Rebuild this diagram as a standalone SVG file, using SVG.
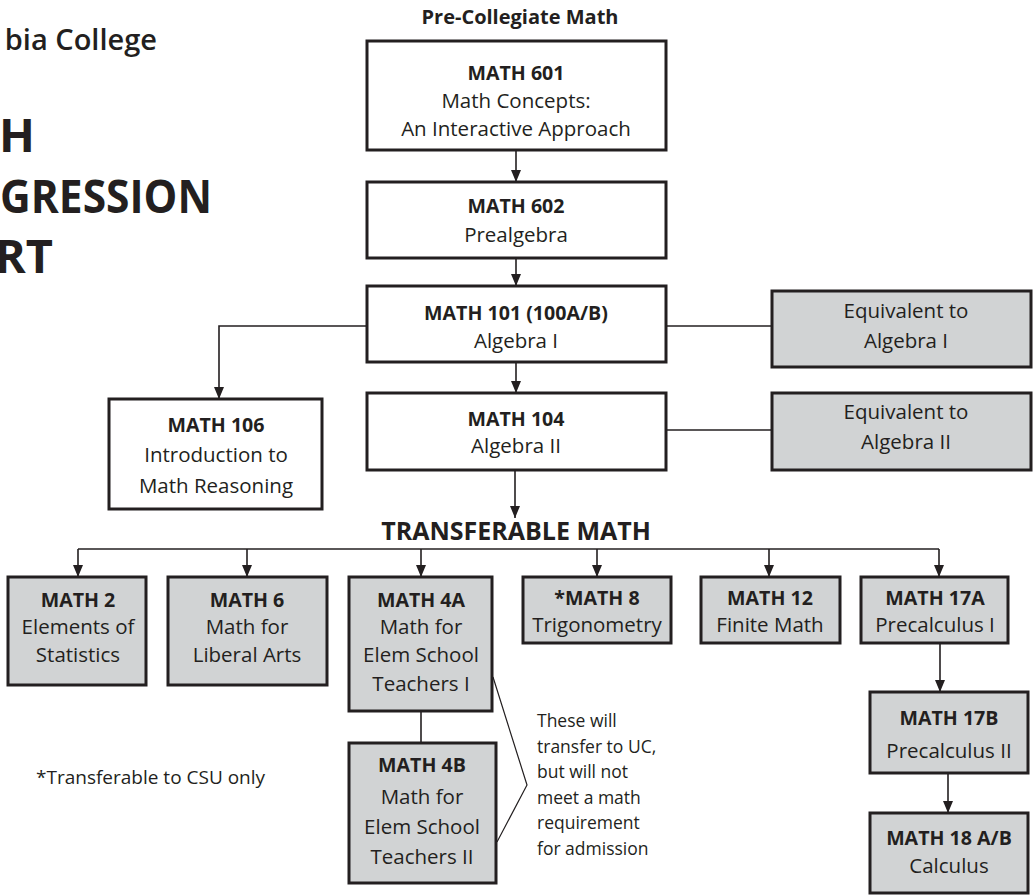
<svg xmlns="http://www.w3.org/2000/svg" width="1034" height="895" viewBox="0 0 1034 895">
<defs>
<style>
text{font-family:"Open Sans","Noto Sans",sans-serif;fill:#231f20;text-anchor:middle}
.b{font-weight:700;font-size:19.6px}
.r{font-size:20.5px}
.w{fill:#fff;stroke:#231f20;stroke-width:3}
.g{fill:#d1d3d4;stroke:#231f20;stroke-width:3}
.c{fill:none;stroke:#231f20;stroke-width:1.6}
.note{font-size:17.5px;text-anchor:start}
.big{font-weight:700;font-size:47px;text-anchor:end}
</style>
<marker id="ah" viewBox="0 0 12 10" refX="12" refY="5" markerWidth="12" markerHeight="10" markerUnits="userSpaceOnUse" orient="auto">
<path d="M0,0 L12,5 L0,10 z" fill="#231f20"/>
</marker>
</defs>
<rect width="1034" height="895" fill="#fff"/>

<g id="title">
<text x="157" y="50" style="font-size:29px;font-weight:600;text-anchor:end">bia College</text>
<text class="big" x="35" y="152">TH</text>
<text class="big" x="0" y="213" style="text-anchor:start" textLength="212" lengthAdjust="spacingAndGlyphs">GRESSION</text>
<text class="big" x="53" y="273">RT</text>
</g>

<g id="connectors">
<path class="c" d="M516,150 V182" marker-end="url(#ah)"/>
<path class="c" d="M516,258 V286" marker-end="url(#ah)"/>
<path class="c" d="M516,362 V393" marker-end="url(#ah)"/>
<path class="c" d="M367,326 H219 V399" marker-end="url(#ah)"/>
<path class="c" d="M666,326 H772"/>
<path class="c" d="M666,430 H772"/>
<path class="c" d="M515,470 V518" marker-end="url(#ah)"/>
<path class="c" d="M78,549 H939"/>
<path class="c" d="M78,549 V577" marker-end="url(#ah)"/>
<path class="c" d="M247,549 V577" marker-end="url(#ah)"/>
<path class="c" d="M421,549 V577" marker-end="url(#ah)"/>
<path class="c" d="M597,549 V577" marker-end="url(#ah)"/>
<path class="c" d="M769,549 V577" marker-end="url(#ah)"/>
<path class="c" d="M939,549 V577" marker-end="url(#ah)"/>
<path class="c" d="M940,643 V692" marker-end="url(#ah)"/>
<path class="c" d="M948,773 V813" marker-end="url(#ah)"/>
<path class="c" d="M421,711 V743"/>
<polyline class="c" style="stroke-width:1.2" points="493,677 527,785 497,842"/>
</g>

<g id="labels">
<text x="520" y="24" style="font-weight:700;font-size:20px">Pre-Collegiate Math</text>
<text x="516" y="540" style="font-weight:700;font-size:25px">TRANSFERABLE MATH</text>
<text class="note" x="537" y="727">These will</text>
<text class="note" x="537" y="753">transfer to UC,</text>
<text class="note" x="537" y="778">but will not</text>
<text class="note" x="537" y="804">meet a math</text>
<text class="note" x="537" y="829">requirement</text>
<text class="note" x="537" y="855">for admission</text>
<text class="note" x="36" y="784" style="font-size:19px">*Transferable to CSU only</text>
</g>

<g id="math601">
<rect class="w" x="367" y="41" width="299" height="109"/>
<text class="b" x="516" y="80">MATH 601</text>
<text class="r" x="516" y="108">Math Concepts:</text>
<text class="r" x="516" y="136">An Interactive Approach</text>
</g>
<g id="math602">
<rect class="w" x="367" y="182" width="299" height="76"/>
<text class="b" x="516" y="213">MATH 602</text>
<text class="r" x="516" y="242">Prealgebra</text>
</g>
<g id="math101">
<rect class="w" x="367" y="286" width="299" height="76"/>
<text class="b" x="516" y="320">MATH 101 (100A/B)</text>
<text class="r" x="516" y="348">Algebra I</text>
</g>
<g id="math104">
<rect class="w" x="367" y="393" width="299" height="77"/>
<text class="b" x="516" y="426">MATH 104</text>
<text class="r" x="516" y="453">Algebra II</text>
</g>
<g id="eq1">
<rect class="g" x="772" y="291" width="259" height="76"/>
<text class="r" x="906" y="318">Equivalent to</text>
<text class="r" x="906" y="348">Algebra I</text>
</g>
<g id="eq2">
<rect class="g" x="772" y="393" width="259" height="77"/>
<text class="r" x="906" y="419">Equivalent to</text>
<text class="r" x="906" y="449">Algebra II</text>
</g>
<g id="math106">
<rect class="w" x="109" y="399" width="213" height="110"/>
<text class="b" x="216" y="432">MATH 106</text>
<text class="r" x="216" y="462">Introduction to</text>
<text class="r" x="216" y="493">Math Reasoning</text>
</g>

<g id="math2">
<rect class="g" x="8" y="577" width="138" height="108"/>
<text class="b" x="78" y="607">MATH 2</text>
<text class="r" x="78" y="634">Elements of</text>
<text class="r" x="78" y="662">Statistics</text>
</g>
<g id="math6">
<rect class="g" x="168" y="577" width="159" height="108"/>
<text class="b" x="247" y="607">MATH 6</text>
<text class="r" x="247" y="634">Math for</text>
<text class="r" x="247" y="662">Liberal Arts</text>
</g>
<g id="math4a">
<rect class="g" x="349" y="577" width="143" height="134"/>
<text class="b" x="421" y="607">MATH 4A</text>
<text class="r" x="421" y="634">Math for</text>
<text class="r" x="421" y="662">Elem School</text>
<text class="r" x="421" y="691">Teachers I</text>
</g>
<g id="math4b">
<rect class="g" x="349" y="743" width="147" height="140"/>
<text class="b" x="422" y="772">MATH 4B</text>
<text class="r" x="422" y="804">Math for</text>
<text class="r" x="422" y="834">Elem School</text>
<text class="r" x="422" y="864">Teachers II</text>
</g>
<g id="math8">
<rect class="g" x="523" y="577" width="148" height="66"/>
<text class="b" x="597" y="605">*MATH 8</text>
<text class="r" x="597" y="632">Trigonometry</text>
</g>
<g id="math12">
<rect class="g" x="701" y="577" width="139" height="66"/>
<text class="b" x="770" y="605">MATH 12</text>
<text class="r" x="770" y="632">Finite Math</text>
</g>
<g id="math17a">
<rect class="g" x="861" y="577" width="147" height="66"/>
<text class="b" x="935" y="605">MATH 17A</text>
<text class="r" x="935" y="632">Precalculus I</text>
</g>
<g id="math17b">
<rect class="g" x="870" y="692" width="158" height="81"/>
<text class="b" x="949" y="725">MATH 17B</text>
<text class="r" x="949" y="758">Precalculus II</text>
</g>
<g id="math18">
<rect class="g" x="870" y="813" width="158" height="80"/>
<text class="b" x="949" y="845">MATH 18 A/B</text>
<text class="r" x="949" y="873">Calculus</text>
</g>
</svg>
